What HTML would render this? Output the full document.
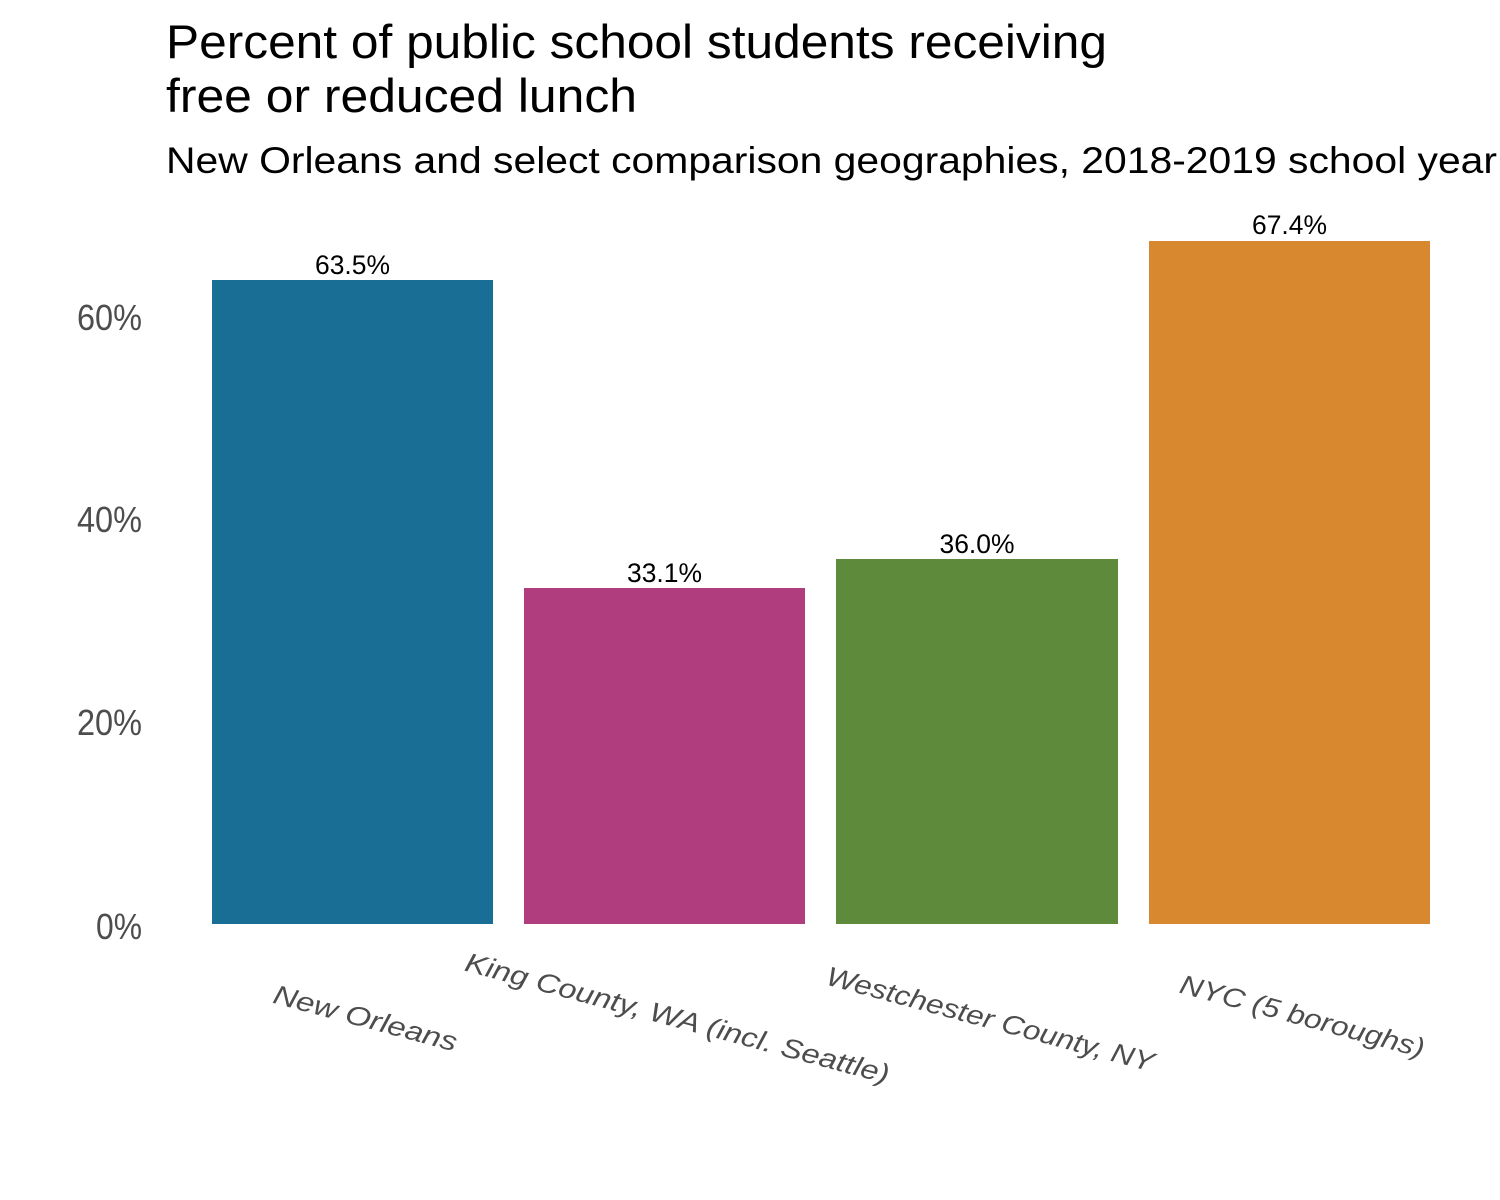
<!DOCTYPE html>
<html>
<head>
<meta charset="utf-8">
<style>
  html, body { margin: 0; padding: 0; background: #ffffff; }
  svg { display: block; }
  text { font-family: "Liberation Sans", "DejaVu Sans", sans-serif; }
</style>
</head>
<body>
<svg width="1500" height="1200" viewBox="0 0 1500 1200" xmlns="http://www.w3.org/2000/svg">
  <rect x="0" y="0" width="1500" height="1200" fill="#ffffff"/>

  <!-- Title -->
  <text x="166" y="58" font-size="47" fill="#000" textLength="941" lengthAdjust="spacingAndGlyphs">Percent of public school students receiving</text>
  <text x="166" y="112" font-size="47" fill="#000" textLength="471" lengthAdjust="spacingAndGlyphs">free or reduced lunch</text>
  <text x="166" y="173" font-size="37" fill="#000" textLength="1331" lengthAdjust="spacingAndGlyphs">New Orleans and select comparison geographies, 2018-2019 school year</text>

  <!-- Y axis labels -->
  <g font-size="36" fill="#4d4d4d" text-anchor="end">
    <text x="142" y="939" textLength="46" lengthAdjust="spacingAndGlyphs">0%</text>
    <text x="142" y="735" textLength="65" lengthAdjust="spacingAndGlyphs">20%</text>
    <text x="142" y="532" textLength="65" lengthAdjust="spacingAndGlyphs">40%</text>
    <text x="142" y="330" textLength="65" lengthAdjust="spacingAndGlyphs">60%</text>
  </g>

  <!-- Bars -->
  <rect x="212" y="280" width="281" height="644" fill="#186E94"/>
  <rect x="524" y="588" width="281" height="336" fill="#B03D7D"/>
  <rect x="836" y="559" width="282" height="365" fill="#5E8A3C"/>
  <rect x="1149" y="241" width="281" height="683" fill="#D8892F"/>

  <!-- Value labels -->
  <g font-size="27" fill="#000" text-anchor="middle">
    <text x="352.5" y="274" textLength="75" lengthAdjust="spacingAndGlyphs">63.5%</text>
    <text x="664.5" y="582" textLength="75" lengthAdjust="spacingAndGlyphs">33.1%</text>
    <text x="977" y="553" textLength="75" lengthAdjust="spacingAndGlyphs">36.0%</text>
    <text x="1289.5" y="234" textLength="75" lengthAdjust="spacingAndGlyphs">67.4%</text>
  </g>

  <!-- X axis labels (rotated) -->
  <g font-size="27" fill="#4d4d4d" font-style="italic" text-anchor="middle">
    <text transform="translate(363,1027) rotate(15)" x="0" y="0" textLength="189" lengthAdjust="spacingAndGlyphs">New Orleans</text>
    <text transform="translate(675,1027) rotate(15)" x="0" y="0" textLength="438" lengthAdjust="spacingAndGlyphs">King County, WA (incl. Seattle)</text>
    <text transform="translate(988,1028) rotate(15)" x="0" y="0" textLength="338" lengthAdjust="spacingAndGlyphs">Westchester County, NY</text>
    <text transform="translate(1300,1025) rotate(15)" x="0" y="0" textLength="252" lengthAdjust="spacingAndGlyphs">NYC (5 boroughs)</text>
  </g>
</svg>
</body>
</html>
